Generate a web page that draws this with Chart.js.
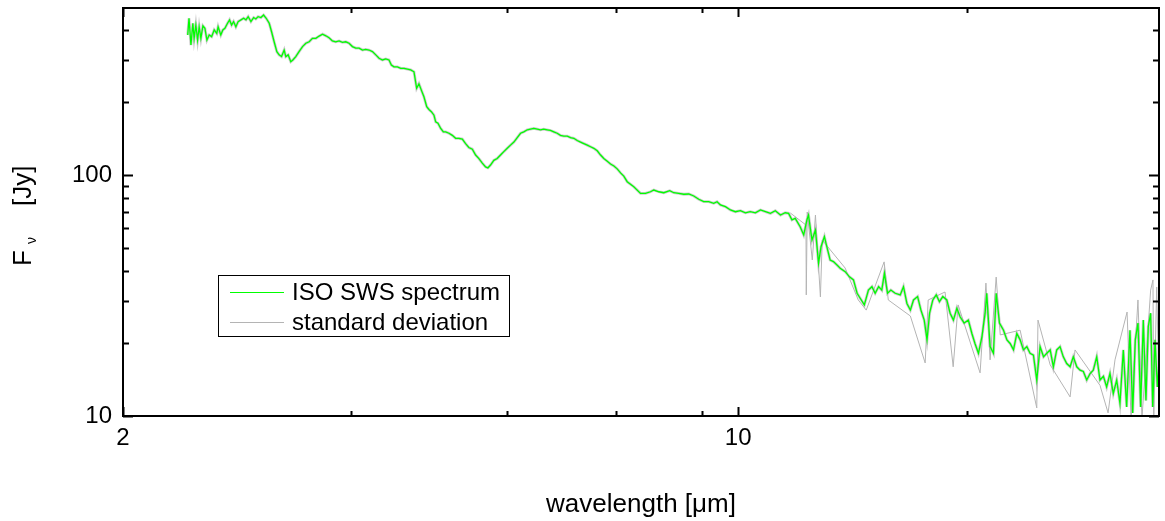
<!DOCTYPE html>
<html>
<head>
<meta charset="utf-8">
<script src="https://cdn.jsdelivr.net/npm/chart.js@4/dist/chart.umd.min.js"></script>
<style>
  body { margin: 0; background: #fff; }
  #wrap { width: 1165px; height: 521px; }
</style>
</head>
<body>
<div id="wrap"><canvas id="spec" width="1165" height="521"></canvas></div>
<script>
// ISO SWS spectrum (wavelength in micron, flux in Jy)
const specWave = [
  2.369, 2.377, 2.389, 2.401, 2.409, 2.420, 2.431, 2.441, 2.452, 2.465,
  2.478, 2.491, 2.506, 2.522, 2.539, 2.556, 2.565, 2.583, 2.597, 2.611,
  2.629, 2.643, 2.657, 2.671, 2.687, 2.703, 2.723, 2.742, 2.759, 2.775,
  2.795, 2.815, 2.831, 2.848, 2.869, 2.889, 2.909, 2.932, 2.950, 2.970,
  2.991, 3.009, 3.028, 3.049, 3.062, 3.081, 3.102, 3.119, 3.143, 3.170,
  3.199, 3.227, 3.255, 3.283, 3.312, 3.341, 3.371, 3.400, 3.429, 3.459,
  3.489, 3.520, 3.551, 3.582, 3.613, 3.645, 3.677, 3.709, 3.742, 3.774,
  3.807, 3.841, 3.875, 3.908, 3.943, 3.977, 4.011, 4.036, 4.064, 4.100,
  4.136, 4.172, 4.209, 4.245, 4.282, 4.312, 4.338, 4.365, 4.395, 4.427,
  4.453, 4.481, 4.512, 4.532, 4.559, 4.592, 4.624, 4.652, 4.692, 4.734,
  4.775, 4.816, 4.859, 4.901, 4.943, 4.988, 5.031, 5.075, 5.120, 5.164,
  5.195, 5.231, 5.277, 5.323, 5.370, 5.416, 5.465, 5.512, 5.561, 5.610,
  5.659, 5.707, 5.759, 5.808, 5.859, 5.911, 5.962, 6.013, 6.068, 6.120,
  6.173, 6.228, 6.282, 6.337, 6.394, 6.449, 6.505, 6.563, 6.620, 6.677,
  6.738, 6.796, 6.855, 6.916, 6.977, 7.036, 7.100, 7.161, 7.224, 7.287,
  7.351, 7.413, 7.480, 7.610, 7.745, 7.846, 7.950, 8.019, 8.124, 8.230,
  8.360, 8.449, 8.560, 8.673, 8.787, 8.903, 9.020, 9.138, 9.258, 9.380,
  9.463, 9.546, 9.672, 9.799, 9.927, 10.06, 10.19, 10.32, 10.46, 10.60,
  10.74, 10.88, 11.02, 11.17, 11.31, 11.41, 11.51, 11.61, 11.76, 11.87,
  11.97, 12.02, 12.13, 12.24, 12.34, 12.42, 12.53, 12.61, 12.72, 12.83,
  12.95, 13.06, 13.23, 13.38, 13.52, 13.65, 13.76, 13.91, 14.06, 14.19,
  14.31, 14.44, 14.56, 14.66, 14.78, 14.91, 15.08, 15.28, 15.41, 15.55,
  15.69, 15.82, 15.99, 16.13, 16.27, 16.39, 16.50, 16.64, 16.79, 16.93,
  17.08, 17.26, 17.41, 17.56, 17.72, 17.87, 18.06, 18.26, 18.43, 18.58,
  18.75, 18.92, 19.08, 19.16, 19.33, 19.50, 19.64, 19.81, 20.02, 20.20,
  20.37, 20.55, 20.73, 20.91, 21.09, 21.28, 21.46, 21.65, 21.84, 22.03,
  22.23, 22.42, 22.62, 22.81, 23.01, 23.21, 23.41, 23.62, 23.83, 24.03,
  24.25, 24.46, 24.67, 24.89, 25.11, 25.32, 25.55, 25.77, 26.00, 26.22,
  26.45, 26.68, 26.92, 27.15, 27.39, 27.63, 27.87, 28.07, 28.26, 28.46,
  28.66, 28.86, 29.06, 29.24, 29.42, 29.58, 29.76, 29.94, 30.05
];
const specFlux = [
  381, 447, 346, 426, 369, 419, 363, 412, 369, 416,
  406, 363, 381, 375, 400, 387, 412, 381, 400, 406,
  426, 440, 419, 433, 412, 433, 440, 447, 440, 454,
  433, 450, 444, 454, 450, 461, 447, 426, 393, 357,
  325, 315, 310, 330, 310, 315, 295, 300, 310, 325,
  341, 352, 357, 369, 369, 377, 384, 378, 371, 360,
  357, 360, 355, 357, 352, 341, 336, 336, 330, 332,
  330, 325, 315, 305, 300, 303, 300, 286, 281, 281,
  277, 277, 275, 273, 268, 229, 239, 225, 211, 192,
  187, 183, 177, 166, 164, 156, 151, 151, 149, 146,
  142, 142, 141, 135, 130, 128, 121, 117, 112, 108,
  107, 110, 115, 117, 121, 125, 129, 133, 137, 143,
  149, 151, 154, 155, 156, 155, 154, 155, 154, 153,
  151, 149, 146, 145, 145, 143, 142, 139, 137, 135,
  133, 131, 129, 126, 121, 117, 114, 111, 109, 106,
  102, 99.0, 93.8, 89.4, 83.9, 83.9, 85.2, 86.6, 85.2, 84.4,
  86.1, 84.4, 83.9, 83.2, 83.4, 81.8, 79.3, 77.5, 77.5, 76.3,
  77.5, 75.1, 73.9, 71.6, 70.4, 71.1, 69.7, 70.4, 69.7, 71.6,
  70.4, 69.3, 71.1, 68.2, 69.7, 69.3, 65.1, 66.1, 61.0, 56.4,
  65.1, 68.2, 53.7, 59.1, 43.0, 50.4, 55.5, 50.4, 44.4, 43.7,
  42.3, 41.0, 39.7, 37.8, 36.7, 32.3, 30.8, 28.9, 33.3, 34.4,
  32.3, 34.4, 33.3, 39.1, 32.3, 33.3, 32.3, 31.8, 34.4, 29.3,
  27.5, 30.3, 31.3, 27.5, 25.0, 20.7, 26.7, 30.3, 31.8, 29.8,
  31.3, 30.3, 26.7, 25.0, 28.0, 25.8, 24.3, 25.0, 22.0, 20.0,
  18.2, 21.3, 26.7, 32.3, 19.4, 18.2, 32.3, 24.3, 22.7, 20.7,
  20.0, 18.8, 22.0, 20.7, 18.8, 19.4, 18.2, 17.9, 14.1, 19.4,
  17.6, 18.2, 18.8, 16.0, 18.8, 19.4, 17.6, 16.5, 16.0, 17.6,
  16.0, 15.5, 15.3, 14.1, 15.0, 15.5, 17.6, 14.1, 14.6, 13.2,
  15.0, 12.4, 14.1, 11.3, 18.8, 10.9, 22.7, 10.3, 20.7, 24.3,
  10.9, 25.0, 11.6, 23.5, 26.7, 10.9, 20.7, 13.2, 16.0
];

// standard deviation excursions (grey spikes around the spectrum)
const sdWave = [
  11.46, 11.94, 11.95, 11.98, 12.14, 12.24, 12.40, 12.46, 13.23, 13.69,
  13.98, 14.65, 14.81, 15.69, 16.31, 16.44, 17.18, 17.55, 17.78, 18.83,
  19.12, 19.33, 19.64, 19.85, 20.91, 21.84, 21.91, 22.62, 23.83, 24.14,
  25.77, 26.32, 26.80, 27.66, 27.95, 28.46, 28.76, 29.42, 29.60, 29.66,
  29.89, 30.05
];
const sdFlux = [
  69.6, 62.0, 31.8, 70.2, 44.4, 68.2, 31.2, 53.7, 41.1, 30.3,
  27.5, 43.6, 30.3, 26.0, 16.6, 30.3, 32.7, 16.0, 28.9, 15.1,
  35.6, 17.1, 37.7, 21.7, 22.7, 10.8, 25.0, 16.3, 12.0, 18.8,
  13.4, 10.3, 17.1, 27.0, 9.8, 30.3, 9.8, 33.3, 36.7, 9.8,
  34.3, 14.1
];

const seriesNames = ['ISO SWS spectrum', 'standard deviation'];
const xTickValues = [2, 3.636, 5.455, 7.273, 9.091, 10, 18.18];
const xTickLabels = { 2: '2', 10: '10' };
const yTickValues = [10, 20, 30, 40, 50, 60, 70, 80, 90, 100, 200, 300, 400];
const yTickLabels = { 10: '10', 100: '100' };

const FONT = "'Liberation Sans', Arial, sans-serif";

function pts(xs, ys) {
  return xs.map((x, i) => ({ x: x, y: ys[i] }));
}

// frame with inward ticks on all four sides, axis titles, legend box
const decor = {
  id: 'decor',
  afterDatasetsDraw(chart) {
    const ctx = chart.ctx;
    const a = chart.chartArea;
    const xs = chart.scales.x, ys = chart.scales.y;
    ctx.save();
    ctx.strokeStyle = '#000';
    ctx.lineWidth = 2;
    ctx.strokeRect(a.left, a.top, a.right - a.left, a.bottom - a.top);

    ctx.beginPath();
    xTickValues.forEach(v => {
      const p = Math.round(xs.getPixelForValue(v)) + 0.5;
      const len = xTickLabels[v] ? 9 : 5;
      ctx.moveTo(p, a.bottom); ctx.lineTo(p, a.bottom - len);
      ctx.moveTo(p, a.top); ctx.lineTo(p, a.top + len);
    });
    yTickValues.forEach(v => {
      const p = Math.round(ys.getPixelForValue(v)) + 0.5;
      const len = yTickLabels[v] ? 10 : 6;
      ctx.moveTo(a.left, p); ctx.lineTo(a.left + len, p);
      ctx.moveTo(a.right, p); ctx.lineTo(a.right - len, p);
    });
    ctx.stroke();

    // legend
    const ds = chart.data.datasets;
    ctx.fillStyle = '#fff';
    ctx.fillRect(218, 275, 291, 61);
    ctx.lineWidth = 1;
    ctx.strokeStyle = '#000';
    ctx.strokeRect(218.5, 275.5, 291, 61);
    [0, 1].forEach(i => {
      const y = 292 + i * 30;
      ctx.strokeStyle = ds[i].borderColor;
      ctx.lineWidth = 1;
      ctx.beginPath();
      ctx.moveTo(230, y + 0.5); ctx.lineTo(284, y + 0.5);
      ctx.stroke();
      ctx.fillStyle = '#000';
      ctx.font = '24px ' + FONT;
      ctx.textBaseline = 'middle';
      ctx.textAlign = 'left';
      ctx.fillText(ds[i].label, 292, y + 1);
    });

    // y title: F with subscript nu
    ctx.fillStyle = '#000';
    ctx.translate(24, 266);
    ctx.rotate(-Math.PI / 2);
    ctx.textBaseline = 'middle';
    ctx.textAlign = 'left';
    ctx.font = '26px ' + FONT;
    ctx.fillText('F', 0, 0);
    const wF = ctx.measureText('F').width;
    ctx.font = '14px ' + FONT;
    ctx.fillText('\u03bd', wF + 6, 8);
    ctx.font = '26px ' + FONT;
    ctx.fillText('[Jy]', 60, 0);
    ctx.restore();

    // x title
    ctx.save();
    ctx.fillStyle = '#000';
    ctx.font = '26px ' + FONT;
    ctx.textAlign = 'center';
    ctx.textBaseline = 'middle';
    ctx.fillText('wavelength [\u03bcm]', (a.left + a.right) / 2, 505);
    ctx.restore();
  }
};

new Chart(document.getElementById('spec'), {
  type: 'line',
  data: {
    datasets: [
      {
        label: seriesNames[0],
        data: pts(specWave, specFlux),
        borderColor: '#00ff00',
        borderWidth: 1.3,
        pointRadius: 0,
        tension: 0,
        order: 0
      },
      {
        label: seriesNames[1],
        data: pts(sdWave, sdFlux),
        borderColor: '#b4b4b4',
        borderWidth: 1,
        pointRadius: 0,
        tension: 0,
        order: 2
      },
      {
        // faint grey halo that the deviation leaves along the spectrum
        label: '',
        data: pts(specWave, specFlux),
        borderColor: 'rgba(170,170,170,0.6)',
        borderWidth: 2.8,
        pointRadius: 0,
        tension: 0,
        order: 1
      }
    ]
  },
  options: {
    responsive: false,
    animation: false,
    layout: { padding: { top: 8, right: 6, left: 0, bottom: 0 } },
    plugins: {
      legend: { display: false },
      tooltip: { enabled: false }
    },
    scales: {
      x: {
        type: 'logarithmic',
        position: 'bottom',
        min: 2,
        max: 30.07,
        afterBuildTicks: s => { s.ticks = xTickValues.map(v => ({ value: v })); },
        afterFit: s => { s.height = 105; s.paddingLeft = 0; s.paddingRight = 0; },
        grid: { display: false, drawTicks: false },
        border: { display: false },
        ticks: {
          autoSkip: false,
          maxRotation: 0,
          padding: 8,
          color: '#000',
          font: { family: FONT, size: 24 },
          callback: v => xTickLabels[v] || ''
        }
      },
      y: {
        type: 'logarithmic',
        min: 10,
        max: 493,
        afterBuildTicks: s => { s.ticks = yTickValues.map(v => ({ value: v })); },
        afterFit: s => { s.width = 123; s.paddingTop = 0; s.paddingBottom = 0; },
        grid: { display: false, drawTicks: false },
        border: { display: false },
        ticks: {
          autoSkip: false,
          padding: 11,
          color: '#000',
          font: { family: FONT, size: 24 },
          callback: v => yTickLabels[v] || ''
        }
      }
    }
  },
  plugins: [decor]
});
</script>
</body>
</html>
